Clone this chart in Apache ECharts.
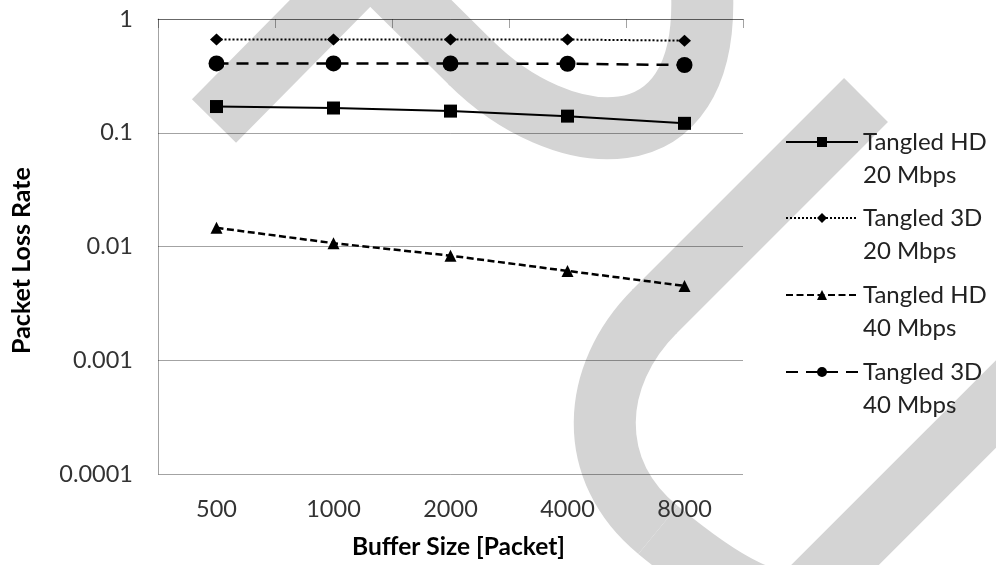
<!DOCTYPE html>
<html><head><meta charset="utf-8">
<script src="https://cdn.jsdelivr.net/npm/echarts@6/dist/echarts.min.js"></script>
<style>html,body{margin:0;padding:0;background:#fff}#c{width:996px;height:565px}</style>
</head><body><div id="c"></div><script>
// ---- data ----
const categories = ['500', '1000', '2000', '4000', '8000'];
const hd20 = [0.170, 0.165, 0.155, 0.140, 0.121];
const td20 = [0.662, 0.662, 0.661, 0.660, 0.645];
const hd40 = [0.0146, 0.0107, 0.0083, 0.0061, 0.0045];
const td40 = [0.407, 0.407, 0.406, 0.404, 0.394];
const yTickLabels = ['0.0001', '0.001', '0.01', '0.1', '1'];
const seriesNames = ['Tangled HD\n20 Mbps', 'Tangled 3D\n20 Mbps', 'Tangled HD\n40 Mbps', 'Tangled 3D\n40 Mbps'];
const xTitle = 'Buffer Size [Packet]';
const yTitle = 'Packet Loss Rate';

const FONT = 'Lato';
const TXT = '#333333';
const GRIDC = 'rgba(0,0,0,0.36)';
const WM = '#d4d4d4';

const chart = echarts.init(document.getElementById('c'), null, {renderer: 'canvas'});

const wmStyle = {stroke: WM, lineWidth: 62, fill: null, lineCap: 'butt', lineJoin: 'miter'};
const watermark = [
  {type: 'polyline', z: -10, silent: true, shape: {points: [[214, 121], [370, -37], [472, 64]]}, style: wmStyle},
  {type: 'bezierCurve', z: -10, silent: true, shape: {x1: 470, y1: 62, cpx1: 560, cpy1: 152, cpx2: 710, cpy2: 170, x2: 702, y2: -10}, style: wmStyle},
  {type: 'line', z: -10, silent: true, shape: {x1: 702, y1: -8, x2: 701, y2: -90}, style: wmStyle},
  {type: 'line', z: -10, silent: true, shape: {x1: 866, y1: 100, x2: 654, y2: 312}, style: wmStyle},
  {type: 'bezierCurve', z: -10, silent: true, shape: {x1: 655, y1: 311, cpx1: 590, cpy1: 376, cpx2: 585, cpy2: 470, x2: 658, y2: 530}, style: wmStyle},
  {type: 'bezierCurve', z: -10, silent: true, shape: {x1: 658, y1: 530, cpx1: 720, cpy1: 581, cpx2: 780, cpy2: 620, x2: 810, y2: 590}, style: wmStyle},
  {type: 'line', z: -10, silent: true, shape: {x1: 809, y1: 591, x2: 1160, y2: 240}, style: wmStyle}
];

const styles = [
  {symbol: 'rect', size: 13, line: {type: 'solid', width: 2}},
  {symbol: 'diamond', size: [13, 12], line: {type: [2, 2], width: 2}},
  {symbol: 'triangle', size: 12, line: {type: [7, 3.5], width: 2.5}},
  {symbol: 'circle', size: 16, line: {type: [12, 8], width: 2.5}}
];
const values = [hd20, td20, hd40, td40];

const series = values.map((v, i) => ({
  name: seriesNames[i],
  type: 'line',
  data: v,
  symbol: styles[i].symbol,
  symbolSize: styles[i].size,
  showAllSymbol: true,
  lineStyle: {color: '#000', width: styles[i].line.width, type: styles[i].line.type},
  itemStyle: {color: '#000'},
  emphasis: {disabled: true},
  z: 3
}));

// legend: icon aligned with the first text line (empty leading line balances the block)
const legendCenters = [142, 218, 295, 372];
const LH = 33;
const legends = seriesNames.map((n, i) => ({
  data: [n],
  orient: 'vertical',
  left: 785,
  top: legendCenters[i] - (3 * LH) / 2,
  padding: 0,
  itemWidth: 72,
  itemHeight: 12.5,
  selectedMode: false,
  formatter: name => '\n' + name,
  textStyle: {fontFamily: FONT, fontSize: 24, color: '#222', lineHeight: LH}
}));

chart.setOption({
  animation: false,
  backgroundColor: '#fff',
  graphic: {elements: watermark},
  legend: legends,
  grid: {left: 158, right: 253, top: 19, bottom: 91, containLabel: false, outerBoundsMode: 'none'},
  xAxis: [
    {
      type: 'category', data: categories, position: 'bottom', boundaryGap: true,
      axisLine: {show: false, onZero: false}, axisTick: {show: false},
      axisLabel: {fontFamily: FONT, fontSize: 23.5, color: TXT, margin: 23},
      name: xTitle, nameLocation: 'middle', nameGap: 61,
      nameTextStyle: {fontFamily: FONT, fontSize: 24.5, fontWeight: 'bold', color: '#000', padding: [0, 0, 0, 16]}
    },
    {
      type: 'category', data: categories, position: 'top', boundaryGap: true,
      axisLine: {show: true, onZero: false, lineStyle: {color: GRIDC, width: 1}},
      axisTick: {show: true, inside: true, length: 9, lineStyle: {color: GRIDC, width: 1}},
      axisLabel: {show: false}
    }
  ],
  yAxis: {
    type: 'log', logBase: 10, min: 0.0001, max: 1,
    axisLine: {show: true, lineStyle: {color: GRIDC, width: 1}},
    axisTick: {show: false},
    splitLine: {show: true, lineStyle: {color: GRIDC, width: 1}},
    axisLabel: {
      fontFamily: FONT, fontSize: 23.5, color: TXT, margin: 25,
      formatter: v => yTickLabels[Math.round(Math.log10(v)) + 4]
    },
    name: yTitle, nameLocation: 'middle', nameGap: 124,
    nameTextStyle: {fontFamily: FONT, fontSize: 25, fontWeight: 'bold', color: '#000', padding: [0, 28, 0, 0]}
  },
  series: series
});
</script></body></html>
